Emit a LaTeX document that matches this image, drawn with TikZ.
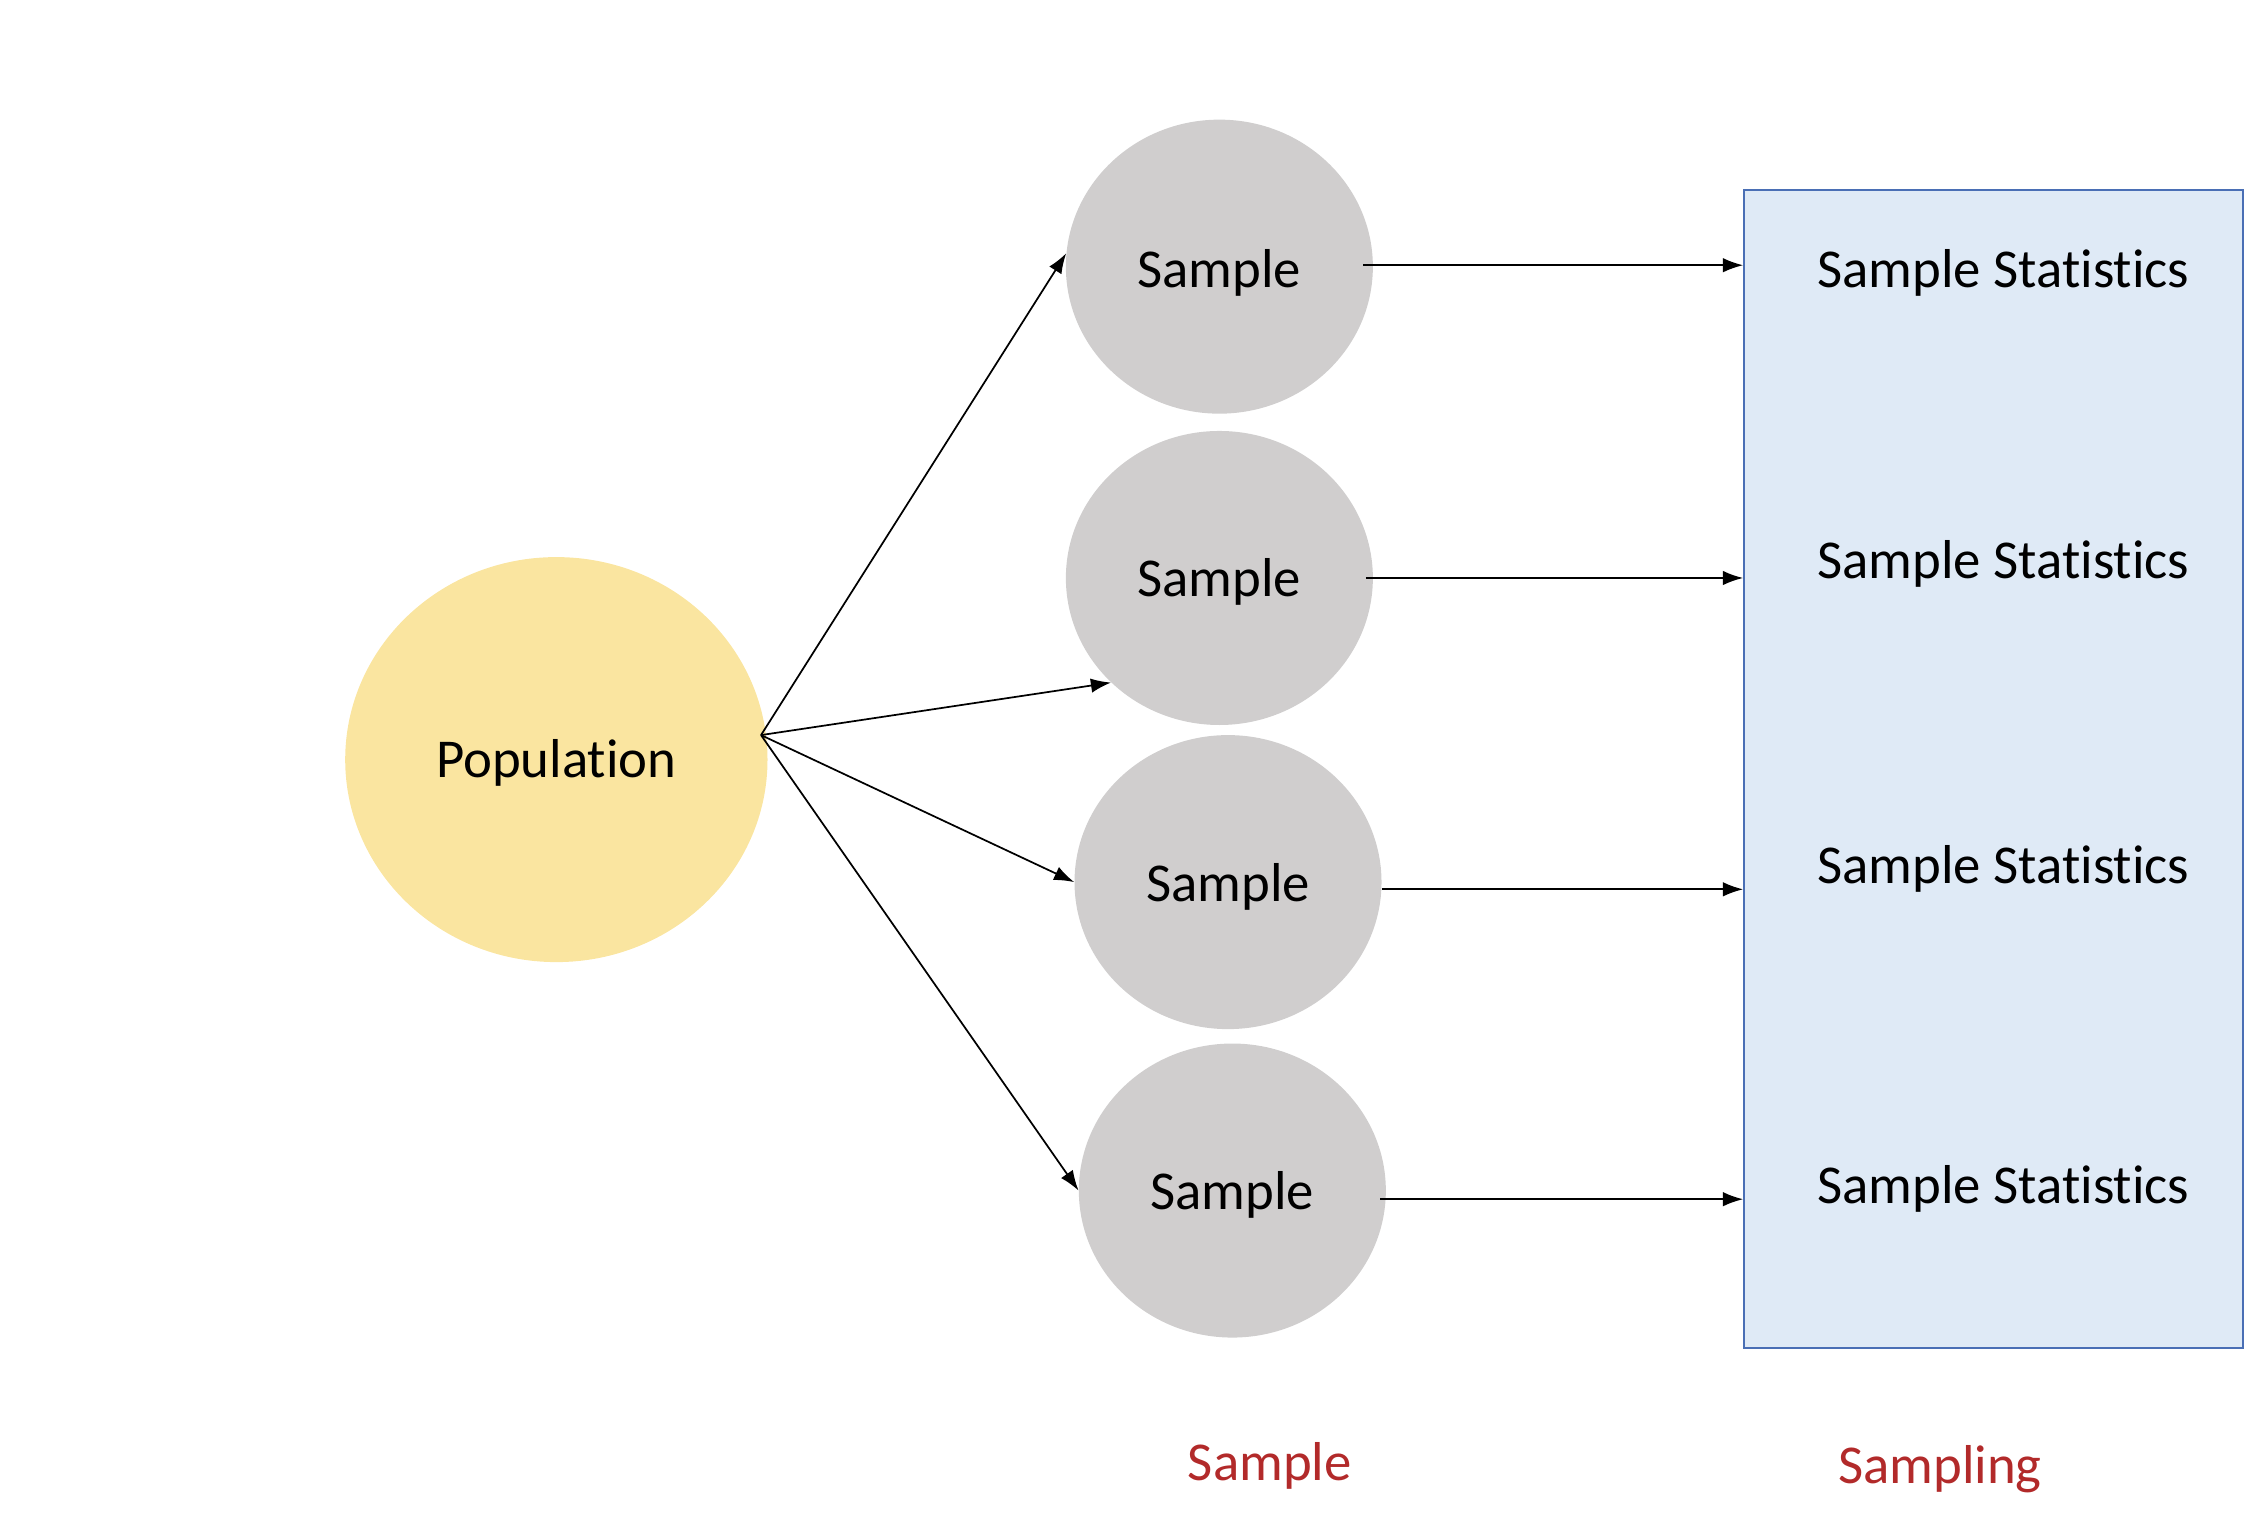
\documentclass[tikz,border=0pt]{standalone}
\usepackage{fontspec}
\setmainfont{Carlito}[RawFeature={-liga}]
\usetikzlibrary{shapes.geometric,arrows.meta,calc}
\definecolor{popfill}{HTML}{FAE5A0}
\definecolor{smpfill}{HTML}{D0CECE}
\definecolor{boxfill}{HTML}{DFEAF6}
\definecolor{boxline}{HTML}{4A6FB5}
\definecolor{redlab}{HTML}{B22A2A}
\begin{document}
\begin{tikzpicture}[x=1pt,y=-1pt,
  txt/.style={font=\fontsize{38}{46}\selectfont, text=black, inner sep=0pt},
  pop/.style={ellipse, fill=popfill, minimum width=293pt, minimum height=281pt, inner sep=0pt},
  smp/.style={ellipse, fill=smpfill, minimum width=213pt, minimum height=204pt, inner sep=0pt},
  arr/.style={draw=black, line width=1.2pt, -{Latex[length=14pt,width=10pt]}},
  redtxt/.style={font=\fontsize{38}{46}\selectfont, text=redlab, inner sep=0pt}]
\useasboundingbox (0,0) rectangle (1568,1053);
% population
\node[pop] (pop) at (386,527) {};
\node[txt] (poptxt) at (386,529) {Population};
% samples
\node[smp] (s1) at (846,185) {};
\node[smp] (s2) at (846,401) {};
\node[smp] (s3) at (852,612) {};
\node[smp] (s4) at (855,826) {};
\node[txt] (t1) at (846,189) {Sample};
\node[txt] (t2) at (846,404) {Sample};
\node[txt] (t3) at (852,615) {Sample};
\node[txt] (t4) at (855,829) {Sample};
% box
\node[draw=boxline, fill=boxfill, line width=1.2pt, minimum width=346pt, minimum height=803pt, inner sep=0pt] (box) at (1383,533.5) {};
\node[txt] (st1) at (1390,189) {Sample Statistics};
\node[txt] (st2) at (1390,391) {Sample Statistics};
\node[txt] (st3) at (1390,603) {Sample Statistics};
\node[txt] (st4) at (1390,825) {Sample Statistics};
% source point
\coordinate (src) at (528,510);
\draw[arr] (src) -- (s1.175);
\draw[arr] (src) -- (s2.224);
\draw[arr] (src) -- (s3.180);
\draw[arr] (src) -- (s4.180);
% horizontal arrows
\coordinate (h1) at ($(s1.east)+(-7,-1)$);
\coordinate (h2) at ($(s2.east)+(-5,0)$);
\coordinate (h3) at ($(s3.east)+(0,5)$);
\coordinate (h4) at ($(s4.east)+(-4,6)$);
\draw[arr] (h1) -- (h1 -| box.west);
\draw[arr] (h2) -- (h2 -| box.west);
\draw[arr] (h3) -- (h3 -| box.west);
\draw[arr] (h4) -- (h4 -| box.west);
% bottom labels
\node[redtxt] (lab1) at (881,1017) {Sample};
\node[redtxt] (lab2) at (1346,1019) {Sampling};
\end{tikzpicture}
\end{document}
